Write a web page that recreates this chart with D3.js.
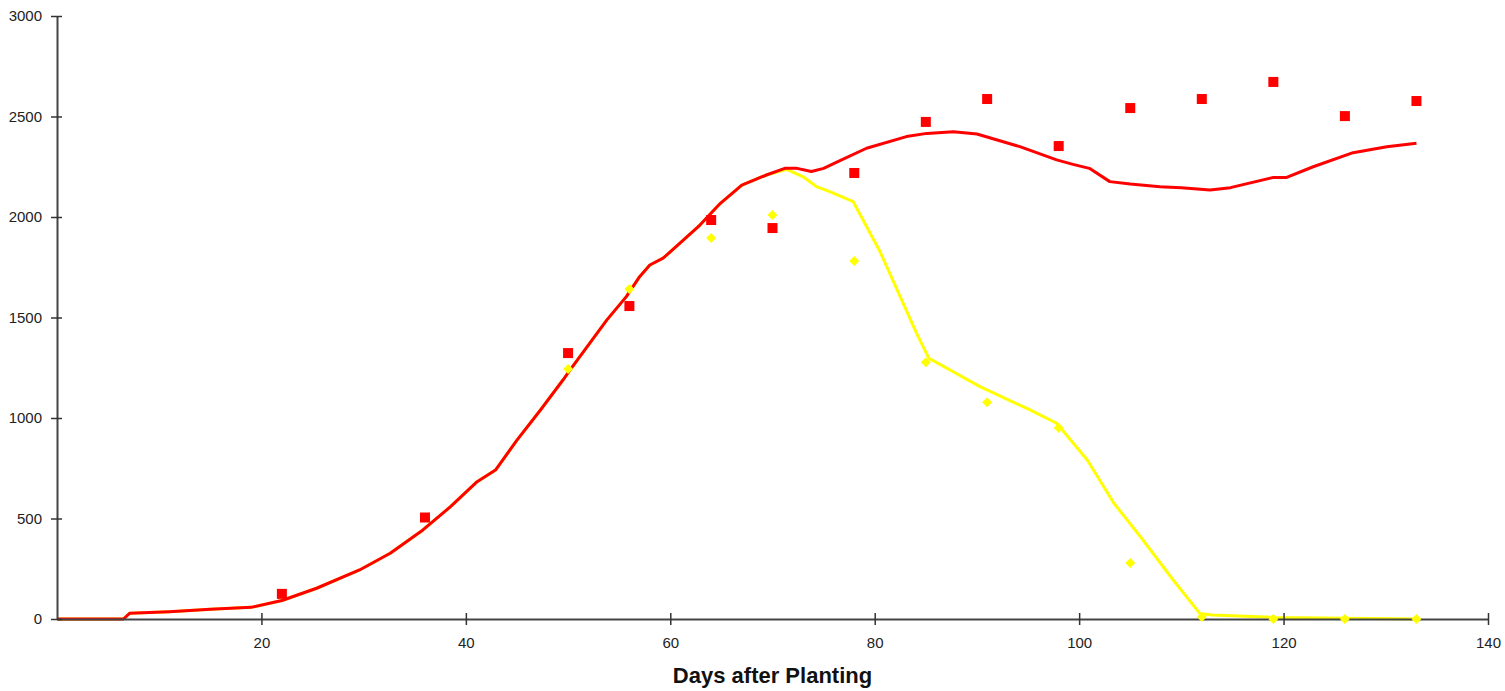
<html>
<head>
    <meta charset="utf-8">
    <title>Days after Planting</title>
    <script src="https://cdn.jsdelivr.net/npm/d3@7"></script>
    <style type="text/css">
        body { margin: 0; background: #fff; }
    </style>
</head>
<body>
<script type="text/javascript">
    // observed total (red squares)
    var obsDays = [22, 36, 50, 56, 64, 70, 78, 85, 91, 98, 105, 112, 119, 126, 133];
    var obsTotal = [125, 505, 1323, 1557, 1985, 1945, 2219, 2473, 2587, 2353, 2542, 2587, 2672, 2502, 2577];

    // observed green (yellow diamonds)
    var greenDays = [50, 56, 64, 70, 78, 85, 91, 98, 105, 112, 119, 126, 133];
    var obsGreen = [1244, 1642, 1896, 2010, 1781, 1277, 1078, 952, 279, 10, 0, 0, 0];

    // simulated total (red line)
    var simDays = [0, 6.5, 7.1, 11, 15, 19, 22, 25.4, 29.6, 32.6, 35.8, 38.5, 41.1, 42.9, 45, 47.3, 49.5,
        50.2, 53.8, 55.7, 57, 58, 59.3, 61.3, 62.9, 64.9, 67, 69.4, 71.2, 72.4, 73.8, 75, 76.6, 79.2,
        83.1, 85.1, 87.7, 90, 94.2, 97.8, 99.4, 101, 103, 105, 107.9, 110, 112.8, 114.8, 119, 120.3,
        122.9, 126.8, 130.1, 133];
    var simTotal = [0, 0, 28, 36, 48, 58, 92, 153, 244, 327, 443, 559, 683, 741, 890, 1040, 1189,
        1239, 1488, 1604, 1703, 1761, 1795, 1886, 1960, 2068, 2159, 2209, 2242, 2242, 2226, 2242, 2280, 2342,
        2400, 2416, 2424, 2413, 2350, 2284, 2262, 2242, 2176, 2164, 2151, 2146, 2134, 2146, 2197, 2197,
        2250, 2320, 2350, 2367];

    // simulated green (yellow line), follows total until ~day 71
    var simGreenDays = [0, 6.5, 7.1, 11, 15, 19, 22, 25.4, 29.6, 32.6, 35.8, 38.5, 41.1, 42.9, 45, 47.3, 49.5,
        50.2, 53.8, 55.7, 57, 58, 59.3, 61.3, 62.9, 64.9, 67, 69.4, 71.4, 73, 74.3, 75.6, 77.9, 80.5,
        82.5, 84.1, 85.3, 90.3, 95.2, 97.8, 100.8, 103.4, 106, 109.2, 111.8, 113, 119, 126, 133];
    var simGreen = [0, 0, 28, 36, 48, 58, 92, 153, 244, 327, 443, 559, 683, 741, 890, 1040, 1189,
        1239, 1488, 1604, 1703, 1761, 1795, 1886, 1960, 2068, 2159, 2209, 2237, 2200, 2151, 2126, 2076, 1830,
        1603, 1421, 1297, 1156, 1040, 974, 791, 576, 409, 194, 28, 20, 8, 4, 0];

    var xTicks = [20, 40, 60, 80, 100, 120, 140];
    var yTicks = [0, 500, 1000, 1500, 2000, 2500, 3000];

    var w = 1505;
    var h = 691;

    var x = d3.scaleLinear().domain([0, 140]).range([57, 1488]);
    var y = d3.scaleLinear().domain([0, 3000]).range([619, 16]);

    var svg = d3.select("body").append("svg").attr("width", w).attr("height", h);

    var line = d3.line()
            .x(function(d) { return x(d[0]); })
            .y(function(d) { return y(d[1]); });

    // yellow line under the red one
    svg.append("path")
            .datum(d3.zip(simGreenDays, simGreen))
            .attr("d", line)
            .attr("fill", "none")
            .attr("stroke", "#ffff00")
            .attr("stroke-width", 3)
            .attr("stroke-linejoin", "round");

    svg.append("path")
            .datum(d3.zip(simDays, simTotal))
            .attr("d", line)
            .attr("fill", "none")
            .attr("stroke", "#ff0000")
            .attr("stroke-width", 3)
            .attr("stroke-linejoin", "round");

    // axes
    var xAxis = d3.axisBottom(x).tickValues(xTicks).tickFormat(d3.format("d"))
            .tickSizeInner(6).tickSizeOuter(0).tickPadding(12);
    var gx = svg.append("g").attr("transform", "translate(0," + y(0) + ")").call(xAxis);
    gx.selectAll(".tick line").attr("y1", -6);

    var yAxis = d3.axisLeft(y).tickValues(yTicks).tickFormat(d3.format("d"))
            .tickSizeInner(6).tickSizeOuter(0).tickPadding(9);
    var gy = svg.append("g").attr("transform", "translate(" + x(0) + ",0)").call(yAxis);
    gy.selectAll(".tick line").attr("x1", 5);

    svg.selectAll(".domain").attr("stroke", "#444").attr("stroke-width", 2);
    svg.selectAll(".tick line").attr("stroke", "#333").attr("stroke-width", 1.5);
    svg.selectAll(".tick text")
            .attr("font-family", "Liberation Sans, Arial, sans-serif")
            .attr("font-size", "15px")
            .attr("fill", "#222");
    gx.selectAll(".tick text").attr("dy", "0.71em");

    // observed markers
    svg.selectAll("rect.obs")
            .data(d3.zip(obsDays, obsTotal))
            .enter()
            .append("rect")
            .attr("class", "obs")
            .attr("x", function(d) { return x(d[0]) - 5; })
            .attr("y", function(d) { return y(d[1]) - 5; })
            .attr("width", 10)
            .attr("height", 10)
            .attr("fill", "#ff0000");

    svg.selectAll("path.green")
            .data(d3.zip(greenDays, obsGreen))
            .enter()
            .append("path")
            .attr("class", "green")
            .attr("d", function(d) {
                var cx = x(d[0]), cy = y(d[1]);
                return "M" + cx + "," + (cy - 5) + "L" + (cx + 5) + "," + cy + "L" + cx + "," + (cy + 5) + "L" + (cx - 5) + "," + cy + "Z";
            })
            .attr("fill", "#ffff00");

    svg.append("text")
            .text("Days after Planting")
            .attr("x", (x(0) + x(140)) / 2)
            .attr("y", 683)
            .attr("text-anchor", "middle")
            .attr("font-family", "Liberation Sans, Arial, sans-serif")
            .attr("font-weight", "bold")
            .attr("font-size", "22px")
            .attr("fill", "#111");
</script>
</body>
</html>
